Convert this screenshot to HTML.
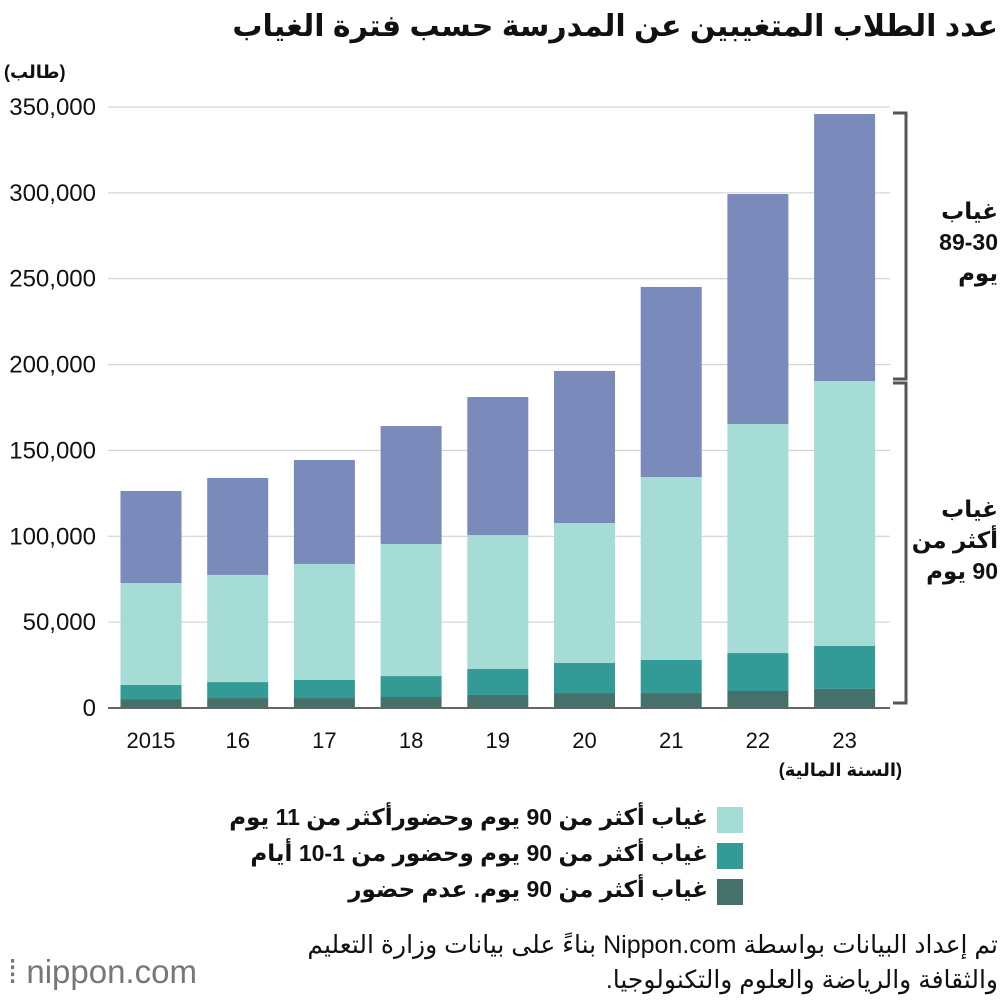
<!DOCTYPE html>
<html><head><meta charset="utf-8">
<style>
body{margin:0;width:1000px;height:1000px;background:#fff;position:relative;overflow:hidden;font-family:"Liberation Sans","DejaVu Sans",sans-serif;color:#111}
.ar{position:absolute;direction:rtl;text-align:right;font-weight:bold;white-space:nowrap}
svg{position:absolute;left:0;top:0}
</style></head><body>
<div class="ar" style="right:2px;top:9px;font-size:30px;">عدد الطلاب المتغيبين عن المدرسة حسب فترة الغياب</div>
<div class="ar" style="left:4px;top:62px;font-size:18px;">(طالب)</div>
<div class="ar" style="right:98px;top:760px;font-size:18px;">(السنة المالية)</div>
<div class="ar" style="right:2px;top:196px;font-size:23px;line-height:31px;">غياب<br>89-30<br>يوم</div>
<div class="ar" style="right:2px;top:494px;font-size:23px;line-height:31px;">غياب<br>أكثر من<br>90 يوم</div>
<svg width="1000" height="1000" id="chart"></svg>
<div class="ar" style="right:292px;top:804px;font-size:23px;">غياب أكثر من 90 يوم وحضورأكثر من 11 يوم</div>
<div class="ar" style="right:292px;top:840px;font-size:23px;">غياب أكثر من 90 يوم وحضور من 1-10 أيام</div>
<div class="ar" style="right:292px;top:876px;font-size:23px;">غياب أكثر من 90 يوم. عدم حضور</div>
<div class="ar" style="right:2px;top:928px;font-size:25px;font-weight:normal;line-height:35px;">تم إعداد البيانات بواسطة Nippon.com بناءً على بيانات وزارة التعليم<br>والثقافة والرياضة والعلوم والتكنولوجيا.</div>
<div style="position:absolute;left:8px;top:953px;font-size:33px;color:#777;">⁞ nippon.com</div>
<script>
const categories=["2015","16","17","18","19","20","21","22","23"];
const noAttend=[5200,5800,5800,6400,7600,8700,8700,9900,11100];
const attend1to10=[8200,9300,10500,12200,15100,17500,19300,22100,25000];
const attend11plus=[59400,62400,67600,76900,78000,81500,106500,133400,154300];
const absent30to89=[53600,56500,60500,68700,80400,88600,110700,133900,155500];
const yTicks=[0,50000,100000,150000,200000,250000,300000,350000];
const series=[noAttend,attend1to10,attend11plus,absent30to89];
const colors=["#46706a","#339a96","#a5ddd6","#7a8aba"];
const names=["no-attend","attend-1-10","attend-11plus","absent-30-89"];
const NS="http://www.w3.org/2000/svg",svg=document.getElementById('chart');
const y=v=>708-v*601/350000, x0=108, step=86.7, bw=61;
const cx=i=>x0+43+i*step;
function mk(t,a){const e=document.createElementNS(NS,t);for(const k in a)e.setAttribute(k,a[k]);svg.appendChild(e);return e;}
yTicks.forEach(v=>{
 const l=mk('line',{x1:x0,x2:890,y1:y(v),y2:y(v),stroke:v?'#ccc':'#333','stroke-width':v?1:1.5});
 
 
 const t=mk('text',{x:96,y:y(v)+8,'text-anchor':'end','font-size':24,fill:'#111'});
 t.textContent=v.toLocaleString('en-US');
 
 
});
categories.forEach((c,i)=>{
 let base=0;
 series.forEach((s,k)=>{
  const r=mk('rect',{x:cx(i)-bw/2,width:bw,y:y(base+s[i]),height:y(base)-y(base+s[i]),fill:colors[k]});
  
  
  base+=s[i];
 });
 const t=mk('text',{x:cx(i),y:748,'text-anchor':'middle','font-size':22,fill:'#111'});
 t.textContent=c;
 
 
});
[[113,379],[383,703]].forEach((b,j)=>{
 const p=mk('path',{d:`M893 ${b[0]}H906V${b[1]}H893`,fill:'none',stroke:'#555','stroke-width':3});
 
 
});
[2,1,0].forEach((k,j)=>{
 const r=mk('rect',{x:717,y:807+j*36,width:26,height:26,fill:colors[k]});
 
 
});
</script>
</body></html>
